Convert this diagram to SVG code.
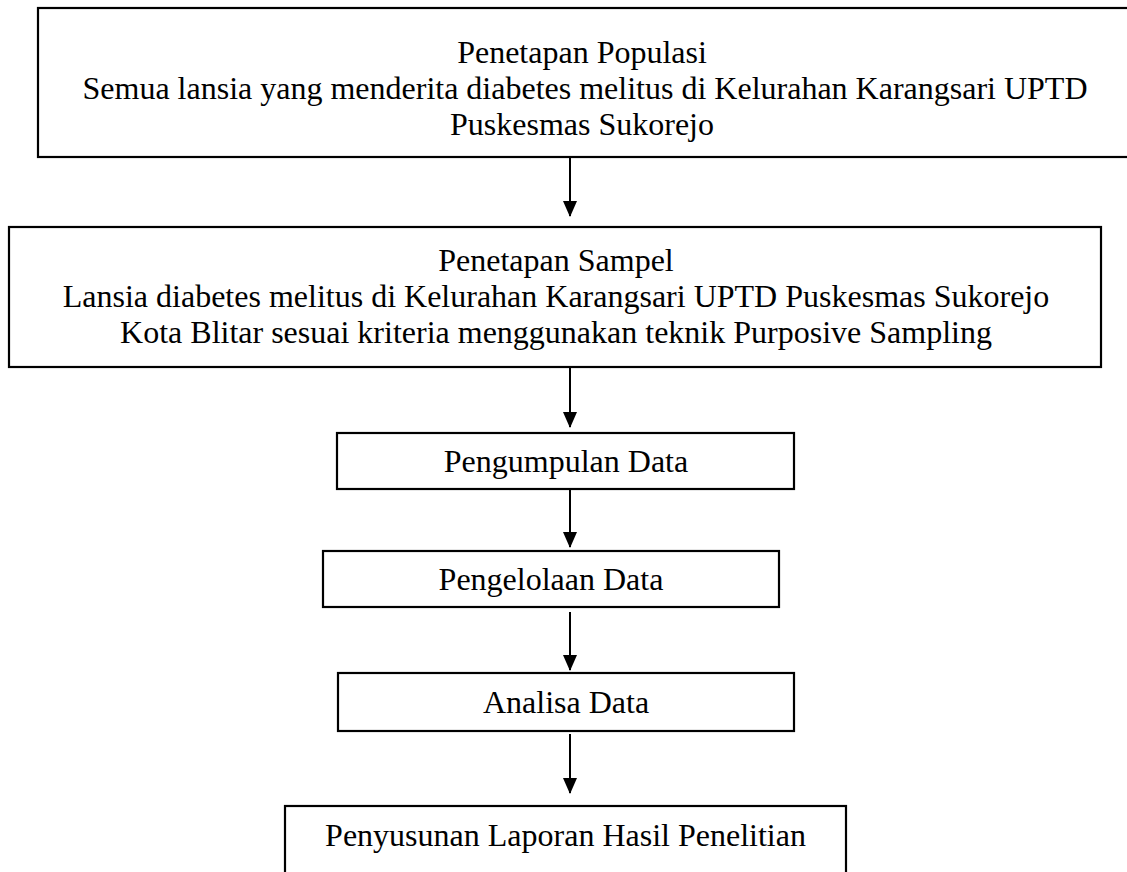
<svg xmlns="http://www.w3.org/2000/svg" width="1127" height="872" viewBox="0 0 1127 872">
<defs>
<style>
.box{fill:#fff;stroke:#000;stroke-width:2.2}
.t{font-family:"Liberation Serif","Times New Roman",serif;font-size:32px;fill:#000;text-anchor:middle}
.c{stroke:#000;stroke-width:2;fill:none}
</style>
<marker id="ah" markerWidth="16" markerHeight="14" refX="15" refY="7" orient="auto" markerUnits="userSpaceOnUse" viewBox="0 0 16 14">
<path d="M0,0 L16,7 L0,14 Z" fill="#000"/>
</marker>
</defs>
<rect width="1127" height="872" fill="#fff"/>
<g id="n1">
<rect class="box" x="38" y="8" width="1092" height="149"/>
<text class="t" x="582" y="63">Penetapan Populasi</text>
<text class="t" x="585" y="99">Semua lansia yang menderita diabetes melitus di Kelurahan Karangsari UPTD</text>
<text class="t" x="582" y="135">Puskesmas Sukorejo</text>
</g>
<g id="n2">
<rect class="box" x="9" y="227" width="1092" height="140"/>
<text class="t" x="556" y="271">Penetapan Sampel</text>
<text class="t" x="556" y="307">Lansia diabetes melitus di Kelurahan Karangsari UPTD Puskesmas Sukorejo</text>
<text class="t" x="556" y="343">Kota Blitar sesuai kriteria menggunakan teknik Purposive Sampling</text>
</g>
<g id="n3">
<rect class="box" x="337" y="433" width="457" height="56"/>
<text class="t" x="566" y="472">Pengumpulan Data</text>
</g>
<g id="n4">
<rect class="box" x="323" y="551" width="456" height="56"/>
<text class="t" x="551" y="590">Pengelolaan Data</text>
</g>
<g id="n5">
<rect class="box" x="338" y="673" width="456" height="58"/>
<text class="t" x="566" y="713">Analisa Data</text>
</g>
<g id="n6">
<rect class="box" x="285" y="806" width="561" height="80"/>
<text class="t" x="565.5" y="846">Penyusunan Laporan Hasil Penelitian</text>
</g>
<g id="connectors">
<line class="c" x1="570" y1="157" x2="570" y2="216" marker-end="url(#ah)"/>
<line class="c" x1="570" y1="367" x2="570" y2="427" marker-end="url(#ah)"/>
<line class="c" x1="570" y1="489" x2="570" y2="547" marker-end="url(#ah)"/>
<line class="c" x1="570" y1="612" x2="570" y2="670" marker-end="url(#ah)"/>
<line class="c" x1="570" y1="734" x2="570" y2="793" marker-end="url(#ah)"/>
</g>
</svg>
